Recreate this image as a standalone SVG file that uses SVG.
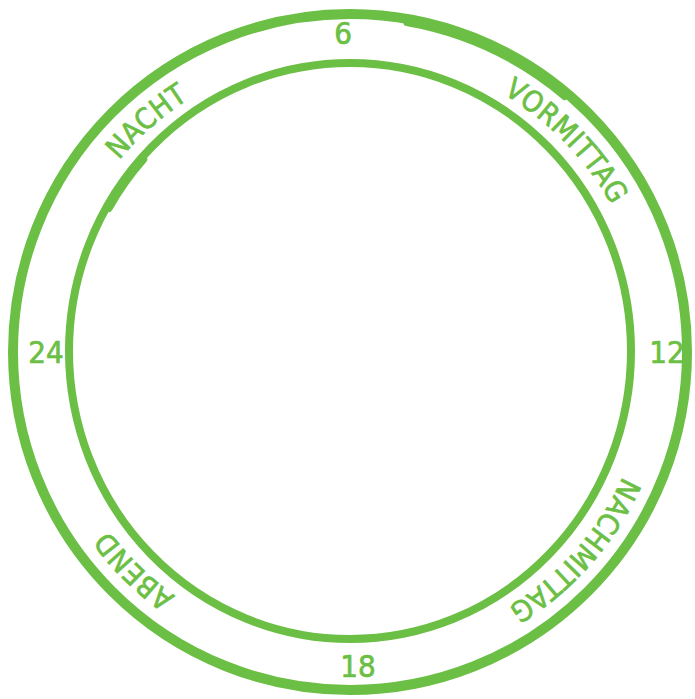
<svg xmlns="http://www.w3.org/2000/svg" xmlns:xlink="http://www.w3.org/1999/xlink" width="695" height="699" viewBox="0 0 695 699">
<style>
.ring{fill:none;stroke:#6cbf45;stroke-linecap:round}
.lbl{fill:#6cbf45;stroke:#6cbf45;stroke-width:0.7;font-family:"Liberation Sans Narrow","DejaVu Sans Condensed","Liberation Sans",sans-serif;font-stretch:condensed}
.num{font-size:31px;text-anchor:middle}
.arc{font-size:29px;letter-spacing:0.5px}
</style>
<defs>
<path id="tp" d="M 50,352 A 300,300 0 1,1 650,352 A 300,300 0 1,1 50,352"/>
</defs>
<g id="rings">
<ellipse class="ring" cx="350" cy="352" rx="337" ry="338" stroke-width="10"/>
<path class="ring" d="M 408.5,19.1 A 337,338 0 0 1 566.6,93.1" stroke-width="6" transform="translate(-2,4)"/>
<ellipse class="ring" cx="350" cy="351" rx="281" ry="288" stroke-width="8"/>
<path class="ring" d="M 106.7,207 A 281,288 0 0 1 141.2,158.3" stroke-width="8" transform="translate(2,1)"/>
</g>
<g id="n6"><text class="lbl num" x="343" y="44">6</text></g>
<g id="n12"><text class="lbl num" x="667" y="363">12</text></g>
<g id="n18"><text class="lbl num" x="358" y="677">18</text></g>
<g id="n24"><text class="lbl num" x="46" y="363">24</text></g>
<g id="nacht"><text class="lbl arc"><textPath href="#tp" startOffset="13.5%" text-anchor="middle">NACHT</textPath></text></g>
<g id="vormittag"><text class="lbl arc"><textPath href="#tp" startOffset="37.7%" text-anchor="middle">VORMITTAG</textPath></text></g>
<g id="nachmittag"><text class="lbl arc"><textPath href="#tp" startOffset="61.5%" text-anchor="middle">NACHMITTAG</textPath></text></g>
<g id="abend"><text class="lbl arc"><textPath href="#tp" startOffset="87.4%" text-anchor="middle">ABEND</textPath></text></g>
</svg>
